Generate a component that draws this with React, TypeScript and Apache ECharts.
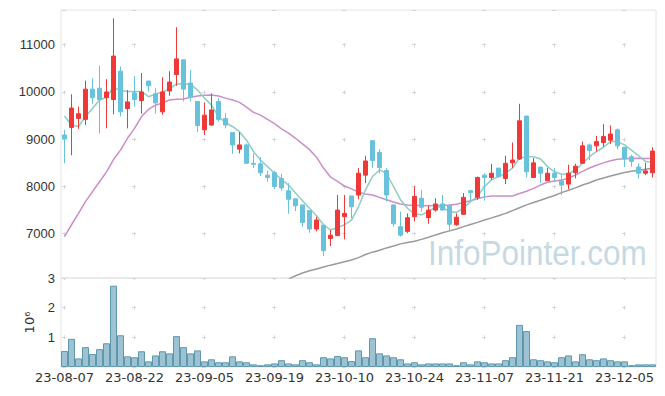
import React, { useEffect, useRef } from 'react';
import * as echarts from 'echarts';

const dates = [
  '23-08-07','23-08-08','23-08-09','23-08-10','23-08-11','23-08-14','23-08-16','23-08-17','23-08-18','23-08-21',
  '23-08-22','23-08-23','23-08-24','23-08-25','23-08-28','23-08-29','23-08-30','23-08-31','23-09-01','23-09-04',
  '23-09-05','23-09-06','23-09-07','23-09-08','23-09-11','23-09-12','23-09-13','23-09-14','23-09-15','23-09-18',
  '23-09-19','23-09-20','23-09-21','23-09-22','23-09-25','23-09-26','23-09-27','23-10-04','23-10-05','23-10-06',
  '23-10-10','23-10-11','23-10-12','23-10-13','23-10-16','23-10-17','23-10-18','23-10-19','23-10-20','23-10-23',
  '23-10-24','23-10-25','23-10-26','23-10-27','23-10-30','23-10-31','23-11-01','23-11-02','23-11-03','23-11-06',
  '23-11-07','23-11-08','23-11-09','23-11-10','23-11-13','23-11-14','23-11-15','23-11-16','23-11-17','23-11-20',
  '23-11-21','23-11-22','23-11-23','23-11-24','23-11-27','23-11-28','23-11-29','23-11-30','23-12-01','23-12-04',
  '23-12-05','23-12-06','23-12-07','23-12-08','23-12-11'
];

const opens = [
  9090, 9250, 9440, 9420, 10060, 10080, 9880, 9840, 10440, 9650,
  9980, 9820, 10230, 9960, 9580, 10020, 10370, 10680, 10190, 9800,
  9200, 9300, 9800, 9440, 9140, 8790, 8880, 8490, 8480, 8240,
  8290, 8170, 7910, 7740, 7610, 7490, 7100, 7180, 6900, 6960,
  7360, 7800, 7820, 8240, 8970, 8720, 8340, 7610, 7150, 7050,
  7360, 7750, 7340, 7500, 7630, 7600, 7190, 7410, 7910, 7770,
  8240, 8190, 8390, 8170, 8500, 8580, 9490, 8190, 8410, 8120,
  8280, 8120, 8050, 8290, 8490, 8880, 8860, 8930, 8980, 9200,
  8830, 8630, 8410, 8280, 8290
];
const closes = [
  9010, 9660, 9540, 10060, 9880, 9840, 10000, 10760, 9580, 9790,
  9840, 10000, 10130, 9770, 10000, 10210, 10700, 10060, 9900, 9290,
  9510, 9620, 9420, 9300, 8880, 8880, 8490, 8470, 8290, 8190,
  8000, 7970, 7730, 7590, 7240, 7100, 7290, 6640, 6970, 7500,
  7430, 7570, 8280, 8540, 8550, 8400, 7820, 7210, 6970, 7340,
  7790, 7560, 7500, 7630, 7500, 7200, 7350, 7770, 7870, 8190,
  8190, 8280, 8210, 8490, 8560, 9390, 8310, 8500, 8280, 8280,
  8190, 8030, 8280, 8430, 8860, 8760, 8950, 9060, 9110, 8860,
  8580, 8530, 8280, 8330, 8750
];
const lows = [
  8490, 8660, 9220, 9300, 9750, 9120, 9230, 9530, 9480, 9230,
  9690, 9540, 10010, 9540, 9520, 9920, 10130, 9800, 9800, 9150,
  9090, 9280, 9370, 9230, 8690, 8700, 8490, 8390, 8220, 8100,
  7940, 7910, 7420, 7480, 7150, 7020, 7050, 6530, 6740, 6960,
  6880, 7330, 7730, 8070, 8390, 8280, 7680, 7150, 6940, 7010,
  7260, 7470, 7210, 7470, 7490, 7050, 7170, 7400, 7680, 7720,
  7700, 8140, 8190, 8050, 8390, 8560, 8190, 8190, 8070, 8120,
  8090, 7820, 7940, 8170, 8490, 8560, 8740, 8840, 8900, 8790,
  8410, 8420, 8170, 8240, 8190
];
const highs = [
  9200, 9950, 9690, 10240, 10290, 10560, 10270, 11560, 10540, 10040,
  10340, 10400, 10240, 10080, 10310, 10440, 11370, 10680, 10460, 9800,
  9780, 9970, 9870, 9550, 9150, 9150, 8910, 8700, 8620, 8330,
  8330, 8270, 8070, 7740, 7610, 7490, 7360, 7180, 7080, 7820,
  7820, 7800, 8390, 8650, 8970, 8790, 8390, 7610, 7470, 7430,
  8000, 7930, 7590, 7750, 7820, 7600, 7430, 7860, 7930, 8210,
  8280, 8480, 8390, 8650, 8930, 9750, 9490, 8600, 8410, 8390,
  8390, 8240, 8460, 8480, 8950, 8910, 9070, 9320, 9290, 9230,
  8830, 8670, 8490, 8500, 8830
];

const ma5 = [
  9490, 9300, 9270, 9480, 9650, 9830, 9890, 10100, 10030, 10010,
  10010, 10010, 9900, 9960, 10000, 10060, 10170, 10170, 10170, 10040,
  9870, 9720, 9480, 9350, 9270, 9160, 8980, 8740, 8560, 8420,
  8280, 8150, 8030, 7860, 7700, 7540, 7380, 7190, 7080, 7130,
  7190, 7290, 7570, 7930, 8210, 8350, 8280, 8000, 7720, 7540,
  7420, 7400, 7470, 7570, 7560, 7470, 7450, 7540, 7680, 7790,
  8000, 8140, 8210, 8280, 8390, 8600, 8630, 8630, 8580, 8420,
  8310, 8260, 8270, 8350, 8490, 8630, 8740, 8830, 8950, 8950,
  8880, 8770, 8650, 8530, 8510
];
const ma20 = [
  6940, 7190, 7430, 7680, 7890, 8100, 8310, 8570, 8770, 9020,
  9230, 9480, 9630, 9720, 9770, 9830, 9845, 9850, 9890, 9915,
  9930, 9935, 9915, 9870, 9830, 9780, 9680, 9570, 9510, 9420,
  9330, 9220, 9130, 9020, 8900, 8780, 8620, 8390, 8200, 8110,
  8010, 7950, 7880, 7840, 7820, 7770, 7720, 7670, 7630, 7610,
  7600, 7595, 7590, 7595, 7600, 7610, 7625, 7660, 7700, 7740,
  7780, 7800, 7800, 7800, 7800, 7850, 7900, 7960, 8030, 8090,
  8115, 8135, 8180, 8240, 8320, 8390, 8450, 8500, 8545, 8578,
  8585, 8592, 8596, 8592, 8590
];
const ma60: (number | string)[] = [
  '-', '-', '-', '-', '-', '-', '-', '-', '-', '-',
  '-', '-', '-', '-', '-', '-', '-', '-', '-', '-',
  '-', '-', '-', '-', '-', '-', '-', '-', '-', '-',
  '-', '-', 6040, 6110, 6170, 6215, 6255, 6295, 6335, 6370,
  6405, 6445, 6495, 6560, 6610, 6650, 6700, 6740, 6785, 6815,
  6840, 6880, 6925, 6975, 7020, 7060, 7100, 7150, 7195, 7240,
  7290, 7335, 7380, 7430, 7490, 7550, 7610, 7660, 7710, 7760,
  7810, 7870, 7920, 7970, 8030, 8080, 8138, 8180, 8220, 8260,
  8295, 8320, 8345, 8365, 8385
];

const volumes = [
  540000, 950000, 290000, 670000, 440000, 600000, 800000, 2740000, 1070000, 360000,
  330000, 530000, 190000, 390000, 530000, 460000, 1040000, 670000, 460000, 560000,
  190000, 260000, 160000, 160000, 360000, 190000, 160000, 90000, 60000, 90000,
  120000, 230000, 120000, 90000, 230000, 160000, 90000, 330000, 290000, 370000,
  330000, 200000, 560000, 330000, 970000, 460000, 390000, 330000, 260000, 120000,
  160000, 90000, 120000, 120000, 120000, 120000, 60000, 160000, 90000, 190000,
  160000, 120000, 120000, 230000, 330000, 1420000, 1210000, 260000, 230000, 190000,
  160000, 330000, 390000, 190000, 430000, 260000, 230000, 290000, 230000, 190000,
  190000, 60000, 90000, 90000, 90000
];

const priceTicks = { min: 6063, max: 11735 };
const volumeTicks = { min: 0, max: 3000000, step: 1000000 };
const watermark = 'InfoPointer.com';
const volumeUnit = '10⁶';

const UP = '#ef3838';
const DOWN = '#68c2dc';
const GRIDC = '#d6d6d6';

export default function App() {
  const ref = useRef<HTMLDivElement>(null);
  useEffect(() => {
    const chart = echarts.init(ref.current!, null, { renderer: 'svg' });
    const candles = opens.map((o, i) => [o, closes[i], lows[i], highs[i]]);
    const option: any = {
      animation: false,
      textStyle: { fontFamily: 'Liberation Sans' },
      grid: [
        { left: 61, right: 9, top: 10, height: 268, show: true, borderColor: '#e4e4e4', borderWidth: 1, outerBoundsMode: 'none', containLabel: false },
        { left: 61, right: 9, top: 278, height: 89, show: true, borderColor: '#e4e4e4', borderWidth: 1, outerBoundsMode: 'none', containLabel: false },
      ],
      xAxis: [
        {
          type: 'category', gridIndex: 0, data: dates, boundaryGap: true,
          axisLine: { show: false }, axisTick: { show: false }, axisLabel: { show: false },
          splitLine: { show: true, interval: 9, alignWithLabel: true, lineStyle: { color: GRIDC, width: 1, type: [4, 43.25], dashOffset: 14.25 } },
        },
        {
          type: 'category', gridIndex: 1, data: dates, boundaryGap: true,
          axisLine: { show: false }, axisTick: { show: false },
          axisLabel: { interval: 9, fontFamily: 'DejaVu Sans', fontSize: 13, color: '#333', margin: 4 },
          splitLine: { show: true, interval: 9, alignWithLabel: true, lineStyle: { color: GRIDC, width: 1, type: [4, 25.67], dashOffset: 2 } },
        },
      ],
      yAxis: [
        {
          type: 'value', gridIndex: 0, min: priceTicks.min, max: priceTicks.max, scale: true,
          axisLine: { show: false }, axisTick: { show: false },
          axisLabel: { showMinLabel: false, showMaxLabel: false, fontSize: 13, color: '#333', margin: 6, formatter: (v: number) => String(Math.round(v)) },
          splitLine: { show: true, lineStyle: { color: GRIDC, width: 1, type: [4, 66], dashOffset: 68.5 } },
        },
        {
          type: 'value', gridIndex: 1, min: volumeTicks.min, max: volumeTicks.max, interval: volumeTicks.step,
          axisLine: { show: false }, axisTick: { show: false },
          axisLabel: { showMinLabel: false, fontSize: 13, color: '#333', margin: 6, formatter: (v: number) => String(v / 1000000) },
          splitLine: { show: true, lineStyle: { color: GRIDC, width: 1, type: [4, 66], dashOffset: 68.5 } },
          name: volumeUnit, nameLocation: 'middle', nameRotate: 90, nameGap: 25,
          nameTextStyle: { fontSize: 13, color: '#333', fontFamily: 'DejaVu Sans' },
        },
      ],
      series: [
        { type: 'line', name: 'MA60', xAxisIndex: 0, yAxisIndex: 0, data: ma60, showSymbol: false, clip: true, lineStyle: { color: '#9a9a9a', width: 1.5 }, z: 2 },
        { type: 'line', name: 'MA20', xAxisIndex: 0, yAxisIndex: 0, data: ma20, showSymbol: false, clip: true, lineStyle: { color: '#cc8ec9', width: 1.5 }, z: 2 },
        { type: 'line', name: 'MA5', xAxisIndex: 0, yAxisIndex: 0, data: ma5, showSymbol: false, clip: true, lineStyle: { color: '#8ecdc4', width: 1.5 }, z: 2 },
        {
          type: 'candlestick', xAxisIndex: 0, yAxisIndex: 0, data: candles, barWidth: 4, z: 3,
          itemStyle: { color: UP, color0: DOWN, borderColor: UP, borderColor0: DOWN, borderWidth: 1 },
        },
        {
          type: 'bar', xAxisIndex: 1, yAxisIndex: 1, data: volumes, barCategoryGap: '0%',
          itemStyle: { color: '#9dc3d3', borderColor: '#5f97ae', borderWidth: 1 },
        },
      ],
      graphic: [
        {
          type: 'text', left: 428, top: 235, silent: true, z: 1, scaleX: 0.9,
          style: { text: watermark, fontSize: 35, fontFamily: 'Liberation Sans', fill: '#c6d9e3' },
        },
      ],
    };
    chart.setOption(option);
    return () => chart.dispose();
  }, []);
  return <div ref={ref} style={{ position: 'absolute', left: 0, top: 0, width: 665, height: 396 }} />;
}
